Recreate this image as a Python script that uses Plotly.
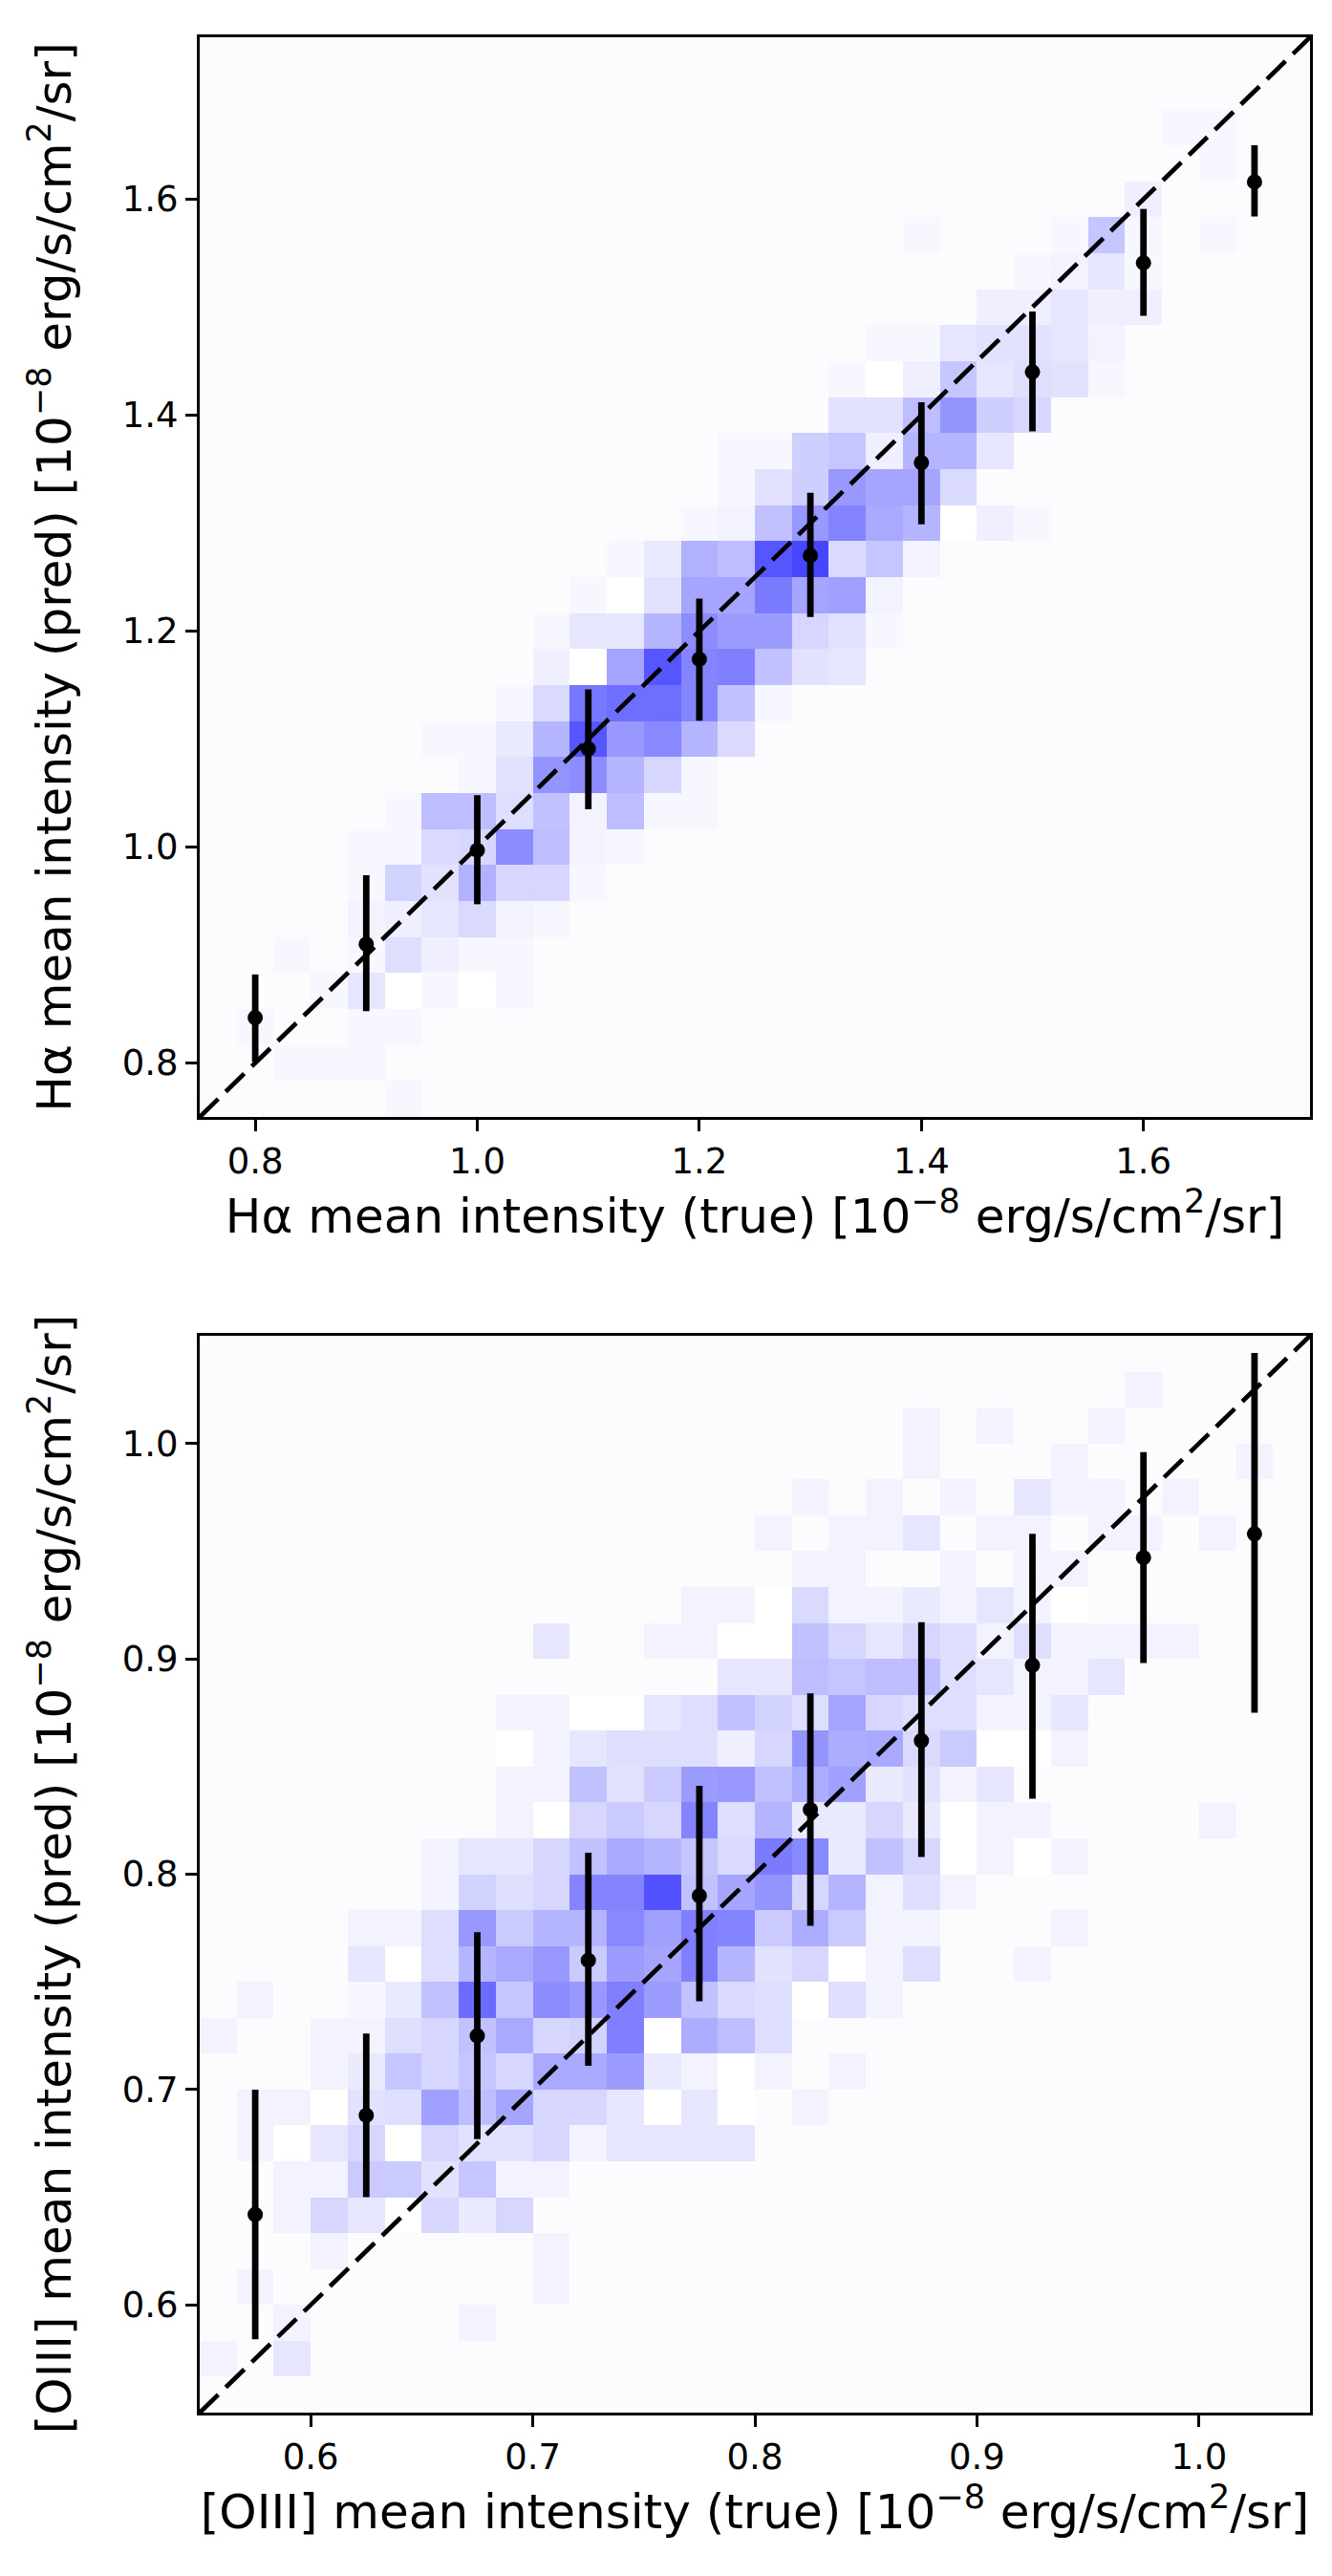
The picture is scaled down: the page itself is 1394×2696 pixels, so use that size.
import numpy as np
import plotly.graph_objects as go

# ---------------- data ----------------
HA_RANGE = [0.75, 1.75]
OIII_RANGE = [0.55, 1.05]
N_BINS = 30
HA_TICKS = [0.8, 1.0, 1.2, 1.4, 1.6]
OIII_TICKS = [0.6, 0.7, 0.8, 0.9, 1.0]

# 2D histogram intensity levels, one string per row (bottom row first),
# one character per bin (left to right); '.' = empty bin.
LEVELS = "0123456789ABCDEFGHIJKLMNOPQRSTUVWXYZabcdefghijklmn"

HA_HIST_ROWS = [
    "..... 2.... ..... ..... ..... .....",
    "..222 ..... ..... ..... ..... .....",
    ".2..2 2.... ..... ..... ..... .....",
    "...26 0202. ..... ..... ..... .....",
    "..2.2 8422. ..... ..... ..... .....",
    "....3 46932 ..... ..... ..... .....",
    "....2 B7JAA 2.... ..... ..... .....",
    "....2 29ASG 32... ..... ..... .....",
    "..... 2GG8F 3G22. ..... ..... .....",
    "..... ..27Q SIA2. ..... ..... .....",
    "..... .225I fPTI9 ..... ..... .....",
    "..... ...29 XZZUF 2.... ..... .....",
    "..... ....4 0MfUV F76.. ..... .....",
    "..... ....2 66ISO OA72. ..... .....",
    "..... ..... 207MM WMN3. ..... .....",
    "..... ..... .25JG fj9E3 ..... .....",
    "..... ..... ...23 FPULI 042.. .....",
    "..... ..... ....2 7CPMM 9.... .....",
    "..... ..... ....2 2CE4I I6... .....",
    "..... ..... ..... ..77G QCA.. .....",
    "..... ..... ..... ..204 E6872 .....",
    "..... ..... ..... ...22 67763 .....",
    "..... ..... ..... ..... .4464 4....",
    "..... ..... ..... ..... ..236 2....",
    "..... ..... ..... ....2 ...2E 2.2..",
    "..... ..... ..... ..... ..... 4....",
    "..... ..... ..... ..... ..... ..2..",
    "..... ..... ..... ..... ..... .22..",
    "..... ..... ..... ..... ..... .....",
    "..... ..... ..... ..... ..... .....",
]

OIII_HIST_ROWS = [
    "..... ..... ..... ..... ..... .....",
    "3.6.. ..... ..... ..... ..... .....",
    "..3.. ..3.. ..... ..... ..... .....",
    ".3... ....3 ..... ..... ..... .....",
    "...3. ....3 ..... ..... ..... .....",
    "..3A6 0A5A. ..... ..... ..... .....",
    "..33D D7E33 ..... ..... ..... .....",
    ".306A 0A77A 36666 ..... ..... .....",
    ".3307 8NGMA A6060 .3... ..... .....",
    "...35 EAEAL LO530 3.3.. ..... .....",
    "3..33 8AFLA BV0KG 8.... ..... .....",
    ".3..2 5FaES PVOF9 8083. ..... .....",
    "....6 08ILP DOMVI 7A038 ..3.. .....",
    "....3 38PDI ITNVU DKD33 ...3. .....",
    "..... .3B8A UUgFM QAI38 3.... .....",
    "..... .366A FLIE9 WT5FA 0303. .....",
    "..... ...30 ADAU8 I55A5 033.. ..3..",
    "..... ...33 F7DOP FKN57 36... .....",
    "..... ...03 68884 AQKL9 D003. .....",
    "..... ...33 0068F B8MA8 8336. .....",
    "..... ..... ....6 6GEGG 86336 .....",
    "..... ....6 ..330 0FA6A 83833 33...",
    "..... ..... ...33 09335 3630. .....",
    "..... ..... ..... .33.. 3.33. .....",
    "..... ..... ..... 3.336 .33.3 3.3..",
    "..... ..... ..... .3.3. 3.633 .3...",
    "..... ..... ..... ....3 ...3. ...3.",
    "..... ..... ..... ....3 .3..3 .....",
    "..... ..... ..... ..... ..... 3....",
    "..... ..... ..... ..... ..... .....",
]

# Binned means with error bars
HA_TRUE = [0.8, 0.9, 1.0, 1.1, 1.2, 1.3, 1.4, 1.5, 1.6, 1.7]
HA_PRED = [0.842, 0.910, 0.997, 1.091, 1.174, 1.270, 1.356, 1.440, 1.541, 1.616]
HA_LOW = [0.801, 0.848, 0.947, 1.035, 1.117, 1.213, 1.299, 1.385, 1.492, 1.584]
HA_HIGH = [0.882, 0.974, 1.048, 1.146, 1.230, 1.328, 1.412, 1.496, 1.591, 1.650]

OIII_TRUE = [0.575, 0.625, 0.675, 0.725, 0.775, 0.825, 0.875, 0.925, 0.975, 1.025]
OIII_PRED = [0.642, 0.688, 0.725, 0.760, 0.790, 0.830, 0.862, 0.897, 0.947, 0.958]
OIII_LOW = [0.584, 0.650, 0.677, 0.711, 0.741, 0.776, 0.808, 0.835, 0.898, 0.875]
OIII_HIGH = [0.700, 0.726, 0.773, 0.810, 0.841, 0.884, 0.917, 0.958, 0.996, 1.042]

HA_XLABEL = "Hα mean intensity (true) [10<sup>−8</sup> erg/s/cm<sup>2</sup>/sr]"
HA_YLABEL = "Hα mean intensity (pred) [10<sup>−8</sup> erg/s/cm<sup>2</sup>/sr]"
OIII_XLABEL = "[OIII] mean intensity (true) [10<sup>−8</sup> erg/s/cm<sup>2</sup>/sr]"
OIII_YLABEL = "[OIII] mean intensity (pred) [10<sup>−8</sup> erg/s/cm<sup>2</sup>/sr]"

# ---------------- helpers ----------------
def decode(rows):
    z = []
    for r in rows:
        r = r.replace(" ", "")
        z.append([None if c == "." else LEVELS.index(c) for c in r])
    return z


def centers(rng, n):
    edges = np.linspace(rng[0], rng[1], n + 1)
    return 0.5 * (edges[:-1] + edges[1:])


FONT = "DejaVu Sans"
W, H = 1394, 2696
ML, MR, MT, MB = 201, 31, 31, 179

fig = go.Figure()

panels = [
    (HA_RANGE, HA_HIST_ROWS, HA_TRUE, HA_PRED, HA_LOW, HA_HIGH, "x", "y"),
    (OIII_RANGE, OIII_HIST_ROWS, OIII_TRUE, OIII_PRED, OIII_LOW, OIII_HIGH, "x2", "y2"),
]

for rng, rows, xt, yp, lo, hi, xa, ya in panels:
    c = centers(rng, N_BINS)
    fig.add_trace(go.Heatmap(
        x=c, y=c, z=decode(rows),
        colorscale=[[0, "rgb(255,255,255)"], [1, "rgb(0,0,255)"]],
        zmin=0, zmax=62, showscale=False, hoverongaps=False,
        xaxis=xa, yaxis=ya,
    ))
    fig.add_trace(go.Scatter(
        x=rng, y=rng, mode="lines",
        line=dict(color="black", width=4.7, dash="27px,11px"),
        xaxis=xa, yaxis=ya, showlegend=False, hoverinfo="skip",
    ))
    ypa = np.array(yp)
    fig.add_trace(go.Scatter(
        x=xt, y=yp, mode="markers",
        marker=dict(color="black", size=16),
        error_y=dict(type="data", symmetric=False,
                     array=list(np.array(hi) - ypa),
                     arrayminus=list(ypa - np.array(lo)),
                     thickness=6.8, width=0, color="black"),
        xaxis=xa, yaxis=ya, showlegend=False,
    ))

ph = H - MT - MB
top_lo = 1 - (1161 - MT) / ph
bot_hi = 1 - (1390 - MT) / ph


def axis(rng, ticks, title, domain=None, anchor=None, standoff=20):
    d = dict(
        range=rng, tickvals=ticks, ticktext=["%.1f" % t for t in ticks],
        ticks="outside", ticklen=12, tickwidth=3, tickcolor="black",
        showline=True, mirror=True, linewidth=3, linecolor="black",
        showgrid=False, zeroline=False,
        tickfont=dict(family=FONT, size=37, color="black"),
        title=dict(text=title, font=dict(family=FONT, size=50, color="black"),
                   standoff=standoff),
    )
    if domain is not None:
        d["domain"] = domain
    if anchor is not None:
        d["anchor"] = anchor
    return d


fig.update_layout(
    width=W, height=H,
    margin=dict(l=ML, r=MR, t=MT, b=MB),
    paper_bgcolor="white", plot_bgcolor="#fcfcfe",
    showlegend=False,
    font=dict(family=FONT, color="black"),
    xaxis=axis(HA_RANGE, HA_TICKS, HA_XLABEL, anchor="y", standoff=16),
    yaxis=axis(HA_RANGE, HA_TICKS, HA_YLABEL, domain=[top_lo, 1], anchor="x", standoff=38),
    xaxis2=axis(OIII_RANGE, OIII_TICKS, OIII_XLABEL, anchor="y2", standoff=16),
    yaxis2=axis(OIII_RANGE, OIII_TICKS, OIII_YLABEL, domain=[0, bot_hi], anchor="x2", standoff=38),
)

fig.write_html("out.html")
